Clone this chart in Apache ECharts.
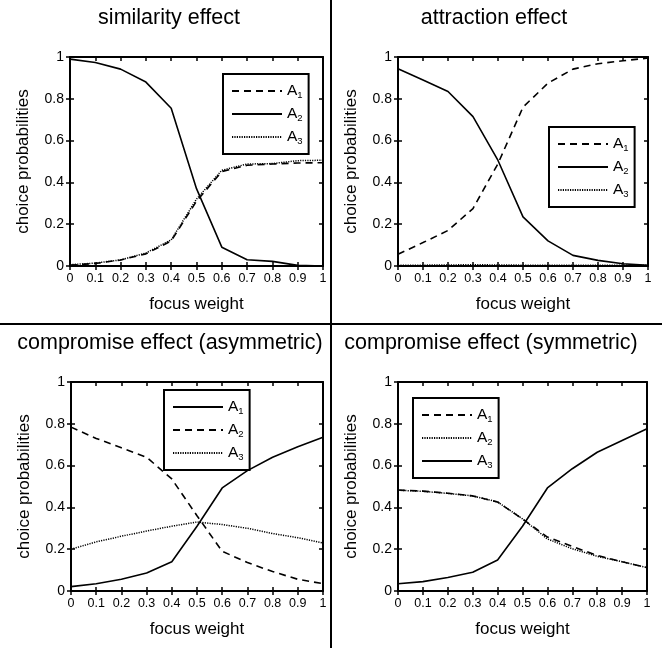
<!DOCTYPE html>
<html>
<head>
<meta charset="utf-8">
<script src="https://cdn.jsdelivr.net/npm/echarts@6/dist/echarts.min.js"></script>
<style>
  html, body { margin: 0; padding: 0; background: #fff; }
  #main { width: 662px; height: 648px; }
</style>
</head>
<body>
<div id="main"></div>
<script>
// focus weight (x) for all four panels
var focusWeights = [0, 0.1, 0.2, 0.3, 0.4, 0.5, 0.6, 0.7, 0.8, 0.9, 1];

// similarity effect
var simA1 = [0.004, 0.012, 0.029, 0.058, 0.12, 0.31, 0.452, 0.482, 0.488, 0.493, 0.494];
var simA2 = [0.99, 0.974, 0.942, 0.88, 0.755, 0.37, 0.09, 0.03, 0.022, 0.003, 0.0];
var simA3 = [0.006, 0.014, 0.029, 0.062, 0.125, 0.32, 0.458, 0.488, 0.49, 0.504, 0.506];

// attraction effect
var attA1 = [0.056, 0.112, 0.17, 0.275, 0.49, 0.76, 0.875, 0.942, 0.968, 0.982, 0.995];
var attA2 = [0.944, 0.89, 0.835, 0.715, 0.505, 0.235, 0.12, 0.051, 0.027, 0.011, 0.003];
var attA3 = [0.004, 0.004, 0.005, 0.006, 0.005, 0.004, 0.004, 0.004, 0.004, 0.004, 0.003];

// compromise effect (asymmetric)
var asyA1 = [0.021, 0.035, 0.056, 0.086, 0.14, 0.31, 0.493, 0.576, 0.64, 0.69, 0.736];
var asyA2 = [0.784, 0.73, 0.685, 0.64, 0.536, 0.36, 0.19, 0.136, 0.093, 0.056, 0.035];
var asyA3 = [0.2, 0.235, 0.262, 0.287, 0.31, 0.33, 0.318, 0.3, 0.275, 0.255, 0.23];

// compromise effect (symmetric)
var symA1 = [0.483, 0.478, 0.468, 0.455, 0.426, 0.345, 0.258, 0.213, 0.17, 0.14, 0.112];
var symA2 = [0.482, 0.477, 0.467, 0.455, 0.426, 0.345, 0.249, 0.202, 0.166, 0.14, 0.112];
var symA3 = [0.035, 0.045, 0.065, 0.09, 0.148, 0.31, 0.493, 0.585, 0.664, 0.72, 0.776];

var titles = ['similarity effect', 'attraction effect',
  'compromise effect (asymmetric)', 'compromise effect (symmetric)'];

var FONT = '"Liberation Sans", Arial, sans-serif';
var SOLID = 'solid', DASH = [7, 5], DOT = [1.2, 1.2];

var panels = [
  { grid: { left: 70, top: 57, width: 253, height: 209 }, titleX: 169, titleY: 7,
    legend: { left: 223, top: 74 },
    lines: [['A1', simA1, DASH], ['A2', simA2, SOLID], ['A3', simA3, DOT]] },
  { grid: { left: 398, top: 57, width: 250, height: 209 }, titleX: 494, titleY: 7,
    legend: { left: 549, top: 127 },
    lines: [['A1', attA1, DASH], ['A2', attA2, SOLID], ['A3', attA3, DOT]] },
  { grid: { left: 71, top: 382, width: 252, height: 209 }, titleX: 170, titleY: 332,
    legend: { left: 164, top: 390 },
    lines: [['A1', asyA1, SOLID], ['A2', asyA2, DASH], ['A3', asyA3, DOT]] },
  { grid: { left: 398, top: 382, width: 249, height: 209 }, titleX: 491, titleY: 332,
    legend: { left: 413, top: 398 },
    lines: [['A1', symA1, DASH], ['A2', symA2, DOT], ['A3', symA3, SOLID]] }
];

var option = {
  animation: false,
  backgroundColor: '#fff',
  textStyle: { fontFamily: FONT, color: '#000' },
  title: [], grid: [], xAxis: [], yAxis: [], legend: [], series: [],
  graphic: [
    { type: 'line', shape: { x1: 331, y1: 0, x2: 331, y2: 648 }, style: { stroke: '#000', lineWidth: 2 } },
    { type: 'line', shape: { x1: 0, y1: 324, x2: 662, y2: 324 }, style: { stroke: '#000', lineWidth: 2 } }
  ]
};

function xAx(gi, pos, inside, labels, line) {
  return {
    type: 'value', gridIndex: gi, position: pos, min: 0, max: 1, interval: 0.1,
    name: labels ? 'focus weight' : '', nameLocation: 'middle', nameGap: 30,
    nameTextStyle: { fontSize: 17, color: '#000', fontFamily: FONT },
    axisLine: { show: line, onZero: false, lineStyle: { color: '#000', width: 2 } },
    axisTick: { show: true, inside: inside, length: 4, lineStyle: { color: '#000', width: 1.5 } },
    axisLabel: { show: labels, fontSize: 12.5, color: '#000', margin: 6, fontFamily: FONT },
    splitLine: { show: false }
  };
}
function yAx(gi, pos, inside, labels, line) {
  return {
    type: 'value', gridIndex: gi, position: pos, min: 0, max: 1, interval: 0.2,
    name: labels ? 'choice probabilities' : '', nameLocation: 'middle', nameGap: 38,
    nameTextStyle: { fontSize: 17, color: '#000', fontFamily: FONT },
    axisLine: { show: line, onZero: false, lineStyle: { color: '#000', width: 2 } },
    axisTick: { show: true, inside: inside, length: 4, lineStyle: { color: '#000', width: 1.5 } },
    axisLabel: { show: labels, fontSize: 14, color: '#000', margin: 6, fontFamily: FONT },
    splitLine: { show: false }
  };
}

panels.forEach(function (p, gi) {
  option.title.push({
    text: titles[gi], left: p.titleX, top: p.titleY, textAlign: 'center', padding: 0,
    textStyle: { fontSize: 21.5, fontWeight: 'normal', color: '#000', fontFamily: FONT }
  });
  option.grid.push(p.grid);
  var xBase = option.xAxis.length, yBase = option.yAxis.length;
  option.xAxis.push(xAx(gi, 'bottom', false, true, true));
  option.xAxis.push(xAx(gi, 'bottom', true, false, false));
  option.xAxis.push(xAx(gi, 'top', true, false, true));
  option.yAxis.push(yAx(gi, 'left', false, true, true));
  option.yAxis.push(yAx(gi, 'left', true, false, false));
  option.yAxis.push(yAx(gi, 'right', true, false, true));

  var names = [];
  p.lines.forEach(function (l) {
    var nm = 'p' + gi + '_' + l[0];
    names.push(nm);
    option.series.push({
      name: nm, type: 'line', xAxisIndex: xBase, yAxisIndex: yBase,
      showSymbol: false, symbol: 'none', z: 3,
      lineStyle: { color: '#000', width: l[2] === DOT ? 1.5 : 1.6, type: l[2] },
      itemStyle: { color: '#000' },
      data: focusWeights.map(function (x, i) { return [x, l[1][i]]; })
    });
  });

  option.legend.push({
    data: names, orient: 'vertical', left: p.legend.left, top: p.legend.top,
    itemWidth: 50, itemHeight: 14, itemGap: 5,
    padding: [8, 6, 8, 8], borderColor: '#000', borderWidth: 2, backgroundColor: '#fff',
    selectedMode: false,
    itemStyle: { opacity: 0 },
    formatter: function (name) { return '{a|A}{s|' + name.slice(-1) + '}'; },
    textStyle: {
      color: '#000', fontFamily: FONT,
      rich: {
        a: { fontSize: 15.5, lineHeight: 18, fontFamily: FONT },
        s: { fontSize: 9.5, lineHeight: 10, padding: [8, 0, 0, 0], fontFamily: FONT }
      }
    }
  });
});

var chart = echarts.init(document.getElementById('main'), null, { renderer: 'canvas' });
chart.setOption(option);
</script>
</body>
</html>
